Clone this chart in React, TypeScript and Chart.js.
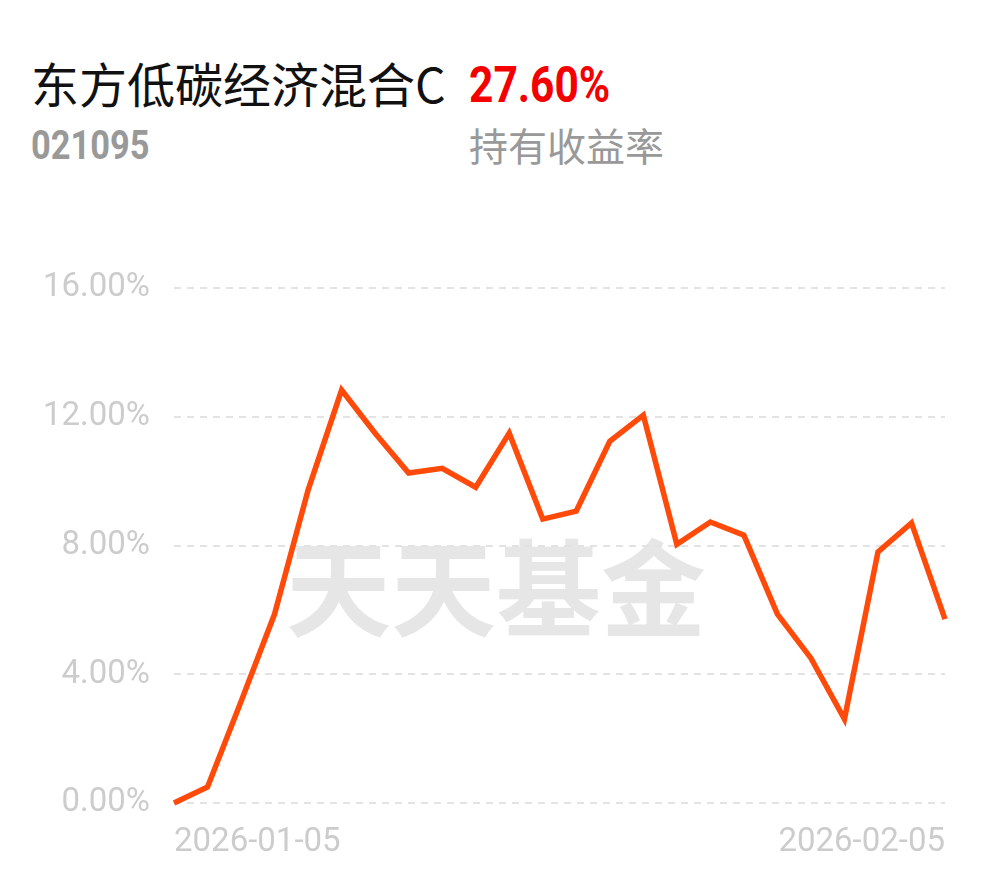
import React, { useEffect, useRef } from "react";
import { Chart, registerables } from "chart.js";

Chart.register(...registerables);

const fundName = "东方低碳经济混合C";
const fundCode = "021095";
const holdReturn = "27.60%";
const holdReturnLabel = "持有收益率";
const watermark = "天天基金";

const dates = [
  "2026-01-05", "2026-01-06", "2026-01-07", "2026-01-08", "2026-01-09",
  "2026-01-12", "2026-01-13", "2026-01-14", "2026-01-15", "2026-01-16",
  "2026-01-19", "2026-01-20", "2026-01-21", "2026-01-22", "2026-01-23",
  "2026-01-26", "2026-01-27", "2026-01-28", "2026-01-29", "2026-01-30",
  "2026-02-02", "2026-02-03", "2026-02-04", "2026-02-05",
];

const returns = [
  0, 0.5, 3.15, 5.87, 9.72, 12.83, 11.49, 10.25, 10.4, 9.81, 11.49, 8.82,
  9.07, 11.24, 12.05, 8.04, 8.73, 8.32, 5.87, 4.5, 2.61, 7.8, 8.7, 5.71,
];

const yTicks = [0, 4, 8, 12, 16];

const watermarkPlugin = {
  id: "watermark",
  beforeDatasetsDraw(chart: any) {
    const { ctx, chartArea } = chart;
    ctx.save();
    ctx.font = 'bold 105px "Noto Sans CJK SC"';
    ctx.fillStyle = "rgba(226,226,226,0.85)";
    ctx.textAlign = "left";
    ctx.textBaseline = "middle";
    ctx.fillText(watermark, chartArea.left + 112, chartArea.top + 300);
    ctx.restore();
  },
};

export default function App() {
  const ref = useRef<HTMLCanvasElement | null>(null);

  useEffect(() => {
    if (!ref.current) return;
    const chart = new Chart(ref.current, {
      type: "line",
      data: {
        labels: dates,
        datasets: [
          {
            data: returns,
            borderColor: "#FF4A0A",
            borderWidth: 5.5,
            pointRadius: 0,
            tension: 0,
            fill: false,
            clip: false as any,
            borderJoinStyle: "miter",
          },
        ],
      },
      options: {
        animation: false,
        responsive: true,
        maintainAspectRatio: false,
        layout: { padding: { top: 48, right: 45, left: 0, bottom: 0 } },
        plugins: { legend: { display: false }, tooltip: { enabled: false } },
        scales: {
          x: {
            grid: { display: false, drawTicks: false },
            border: { display: false },
            ticks: {
              autoSkip: false,
              maxRotation: 0,
              align: "inner",
              padding: 20,
              color: "#cccccc",
              font: { family: "Roboto", size: 33 },
              callback: (_v: any, i: number) =>
                i === 0 || i === dates.length - 1 ? dates[i] : "",
            },
            afterFit: (s: any) => {
              s.height = 75;
            },
          },
          y: {
            min: 0,
            max: 16,
            grid: {
              color: "#e3e3e3",
              lineWidth: 2,
              drawTicks: false,
            },
            border: { display: false, dash: [7, 6] },
            afterBuildTicks: (s: any) => {
              s.ticks = yTicks.map((v) => ({ value: v }));
            },
            ticks: {
              padding: 24,
              color: "#cccccc",
              font: { family: "Roboto", size: 33 },
              callback: (v: any) => Number(v).toFixed(2) + "%",
            },
            afterFit: (s: any) => {
              s.width = 174;
            },
          },
        },
      },
      plugins: [watermarkPlugin],
    });
    return () => chart.destroy();
  }, []);

  return (
    <div style={{ position: "fixed", inset: 0, background: "#fff", overflow: "hidden" }}>
      <div
        style={{
          position: "absolute",
          left: 31,
          top: 57,
          fontFamily: '"Noto Sans CJK SC"',
          fontSize: 48,
          lineHeight: "50px",
          color: "#111",
          whiteSpace: "nowrap",
        }}
      >
        {fundName}
      </div>
      <div
        style={{
          position: "absolute",
          left: 469,
          top: 60,
          fontFamily: "Roboto",
          fontWeight: 700,
          fontSize: 50,
          lineHeight: "50px",
          color: "#f40000",
          whiteSpace: "nowrap",
          transform: "scaleX(0.85)",
          transformOrigin: "left center",
        }}
      >
        {holdReturn}
      </div>
      <div
        style={{
          position: "absolute",
          left: 31,
          top: 125,
          fontFamily: "Roboto",
          fontWeight: 700,
          fontSize: 40,
          lineHeight: "42px",
          color: "#999",
          whiteSpace: "nowrap",
          transform: "scaleX(0.86)",
          transformOrigin: "left center",
        }}
      >
        {fundCode}
      </div>
      <div
        style={{
          position: "absolute",
          left: 469,
          top: 123,
          fontFamily: '"Noto Sans CJK SC"',
          fontSize: 39,
          lineHeight: "42px",
          color: "#999",
          whiteSpace: "nowrap",
        }}
      >
        {holdReturnLabel}
      </div>
      <div style={{ position: "absolute", left: 0, top: 240, width: 990, height: 638 }}>
        <canvas ref={ref} />
      </div>
    </div>
  );
}
